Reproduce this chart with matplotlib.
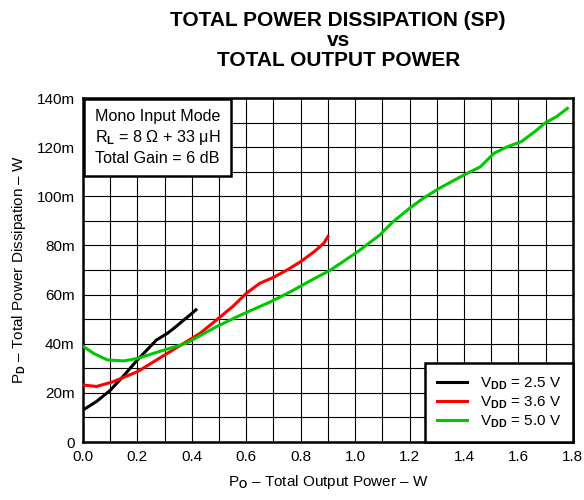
import matplotlib
matplotlib.use('Agg')
import matplotlib.pyplot as plt

plt.rcParams['font.family'] = ['Liberation Sans', 'DejaVu Sans']
plt.rcParams['mathtext.fontset'] = 'custom'
plt.rcParams['mathtext.rm'] = 'Liberation Sans'
plt.rcParams['mathtext.bf'] = 'Liberation Sans:bold'

# VDD = 2.5 V
po_25 = [0.0, 0.05, 0.10, 0.15, 0.20, 0.24, 0.27, 0.31, 0.34, 0.37, 0.40, 0.415]
pd_25 = [13.0, 16.5, 21.0, 27.0, 33.4, 38.0, 41.5, 44.2, 46.8, 49.6, 52.3, 53.8]

# VDD = 3.6 V
po_36 = [0.0, 0.05, 0.11, 0.20, 0.30, 0.39, 0.43, 0.49, 0.55, 0.60, 0.65, 0.70,
         0.75, 0.80, 0.85, 0.885, 0.90]
pd_36 = [23.2, 22.6, 24.5, 28.6, 35.4, 41.5, 44.2, 49.6, 55.1, 60.5, 64.6, 67.0,
         70.0, 73.4, 77.5, 80.9, 83.6]

# VDD = 5.0 V
po_50 = [0.0, 0.04, 0.09, 0.15, 0.20, 0.28, 0.38, 0.49, 0.58, 0.69, 0.76, 0.84,
         0.91, 1.01, 1.09, 1.14, 1.20, 1.25, 1.31, 1.40, 1.46, 1.51, 1.56, 1.61,
         1.66, 1.70, 1.74, 1.78]
pd_50 = [39.0, 36.0, 33.4, 33.0, 34.0, 36.8, 40.2, 46.9, 51.7, 57.1, 61.0, 65.9,
         70.0, 77.5, 84.2, 89.7, 95.1, 99.2, 103.3, 108.7, 112.0, 117.5, 120.2, 122.2,
         126.3, 130.0, 132.4, 135.8]

x_ticks = [0.0, 0.2, 0.4, 0.6, 0.8, 1.0, 1.2, 1.4, 1.6, 1.8]
y_ticks = [0, 20, 40, 60, 80, 100, 120, 140]
y_tick_labels = ['0', '20m', '40m', '60m', '80m', '100m', '120m', '140m']

fig = plt.figure(figsize=(5.84, 5.0), dpi=100)
ax = fig.add_axes([0.142, 0.116, 0.839, 0.688])

ax.plot(po_25, pd_25, color='black', lw=2.2, label=r'V$_{\mathbf{DD}}$ = 2.5 V', zorder=3)
ax.plot(po_36, pd_36, color='#ff0000', lw=2.2, label=r'V$_{\mathbf{DD}}$ = 3.6 V', zorder=3)
ax.plot(po_50, pd_50, color='#00c800', lw=2.2, label=r'V$_{\mathbf{DD}}$ = 5.0 V', zorder=3)

ax.set_xlim(0, 1.8)
ax.set_ylim(0, 140)
ax.set_xticks(x_ticks)
ax.set_xticklabels(['%.1f' % v for v in x_ticks])
ax.set_xticks([i / 10 for i in range(19)], minor=True)
ax.set_yticks(y_ticks)
ax.set_yticklabels(y_tick_labels)
ax.set_yticks(range(0, 141, 10), minor=True)
ax.grid(True, which='both', color='black', lw=0.8)
ax.tick_params(which='both', length=0, labelsize=11, pad=6)
for sp in ax.spines.values():
    sp.set_linewidth(1.8)

ax.set_xlabel(r'P$_{\mathbf{O}}$ – Total Output Power – W', fontsize=11, labelpad=6)
ax.set_ylabel(r'P$_{\mathbf{D}}$ – Total Power Dissipation – W', fontsize=11, labelpad=6)

fig.text(0.579, 0.978, 'TOTAL POWER DISSIPATION (SP)\nvs\nTOTAL OUTPUT POWER',
         ha='center', va='top', fontsize=15, fontweight='bold', linespacing=1.08)

ax.text(0.024, 0.967,
        'Mono Input Mode\nR$_{\\mathbf{L}}$ = 8 Ω + 33 μH\nTotal Gain = 6 dB',
        transform=ax.transAxes, ha='left', va='top', fontsize=11.6, linespacing=1.28,
        bbox=dict(boxstyle='square,pad=0.65', fc='white', ec='black', lw=1.8), zorder=5)

leg = ax.legend(loc='lower right', fontsize=11, fancybox=False, framealpha=1,
                edgecolor='black', borderaxespad=0, handlelength=2.0,
                handletextpad=0.8, labelspacing=0.15, borderpad=0.8)
leg.get_frame().set_linewidth(1.8)
leg.set_zorder(5)

fig.savefig('out.png', dpi=100)
